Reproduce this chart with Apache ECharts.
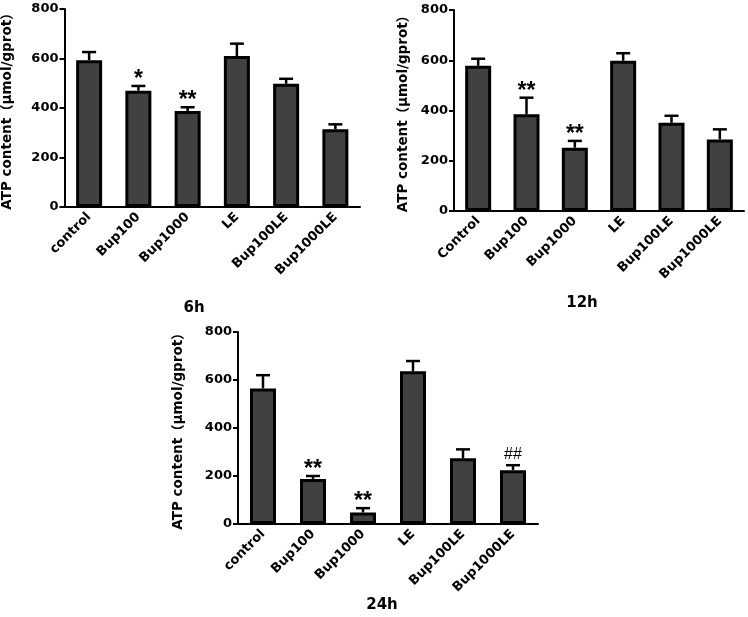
<!DOCTYPE html>
<html>
<head>
<meta charset="utf-8">
<script src="https://cdn.jsdelivr.net/npm/echarts@6/dist/echarts.min.js"></script>
<style>html,body{margin:0;padding:0;background:#fff;}#c{width:748px;height:617px;}</style>
</head>
<body>
<div id="c"></div>
<script>
// ---- data ----
var categories6h = ['control', 'Bup100', 'Bup1000', 'LE', 'Bup100LE', 'Bup1000LE'];
var categories12h = ['Control', 'Bup100', 'Bup1000', 'LE', 'Bup100LE', 'Bup1000LE'];
var categories24h = ['control', 'Bup100', 'Bup1000', 'LE', 'Bup100LE', 'Bup1000LE'];
var mean6h = [593, 470, 388, 610, 498, 314];
var sd6h = [33, 19, 15, 50, 20, 20];
var mean12h = [578, 385, 252, 598, 351, 285];
var sd12h = [28, 66, 27, 30, 28, 40];
var mean24h = [565, 188, 48, 636, 274, 224];
var sd24h = [55, 12, 18, 43, 37, 21];
var marks6h = ['', '*', '**', '', '', ''];
var marks12h = ['', '**', '**', '', '', ''];
var marks24h = ['', '**', '**', '', '', '##'];
var yTicks = [0, 200, 400, 600, 800];
var panelTitles = ['6h', '12h', '24h'];
var yName = 'ATP content（μmol/gprot）';

var FONT = '"DejaVu Sans", "Noto Sans CJK SC", sans-serif';
var STAR_FONT = '"Liberation Sans", Arial, sans-serif';
var panels = [
  {cats: categories6h, mean: mean6h, sd: sd6h, marks: marks6h, grid: {left: 60, top: 9, width: 300, height: 198}, nameGap: 50},
  {cats: categories12h, mean: mean12h, sd: sd12h, marks: marks12h, grid: {left: 454, top: 10, width: 290, height: 201}, nameGap: 44},
  {cats: categories24h, mean: mean24h, sd: sd24h, marks: marks24h, grid: {left: 238, top: 332, width: 300, height: 192}, nameGap: 53}
];

var grids = [], xAxes = [], yAxes = [], series = [];
panels.forEach(function (p, i) {
  grids.push(Object.assign({containLabel: false}, p.grid));
  xAxes.push({
    type: 'category', gridIndex: i, data: p.cats,
    axisLine: {lineStyle: {color: '#000', width: 2}},
    axisTick: {alignWithLabel: true, length: 5, lineStyle: {color: '#000', width: 2}},
    axisLabel: {rotate: 45, color: '#000', fontWeight: 'bold', fontSize: 13, fontFamily: FONT, margin: 8}
  });
  yAxes.push({
    type: 'value', gridIndex: i, min: yTicks[0], max: yTicks[yTicks.length - 1], interval: yTicks[1] - yTicks[0],
    name: yName, nameLocation: 'middle', nameGap: p.nameGap, nameRotate: 90,
    nameTextStyle: {color: '#000', fontWeight: 'bold', fontSize: 13.5, fontFamily: FONT},
    axisLine: {show: true, lineStyle: {color: '#000', width: 2}},
    axisTick: {show: true, length: 5, lineStyle: {color: '#000', width: 2}},
    axisLabel: {color: '#000', fontWeight: 'bold', fontSize: 13, fontFamily: FONT, margin: 6},
    splitLine: {show: false}
  });
  series.push({
    type: 'bar', xAxisIndex: i, yAxisIndex: i, data: p.mean, barWidth: 26,
    itemStyle: {color: '#414141', borderColor: '#000', borderWidth: 3},
    silent: true, animation: false
  });
  series.push({
    type: 'custom', xAxisIndex: i, yAxisIndex: i, z: 5, animation: false, silent: true,
    data: p.mean.map(function (m, k) { return [k, m, m + p.sd[k]]; }),
    renderItem: (function (marks) {
      return function (params, api) {
        var idx = api.value(0);
        var base = api.coord([idx, api.value(1)]);
        var top = api.coord([idx, api.value(2)]);
        var children = [
          {type: 'line', shape: {x1: base[0], y1: base[1], x2: top[0], y2: top[1]}, style: {stroke: '#000', lineWidth: 2.5}},
          {type: 'line', shape: {x1: top[0] - 7, y1: top[1], x2: top[0] + 7, y2: top[1]}, style: {stroke: '#000', lineWidth: 2.5}}
        ];
        var m = marks[idx];
        if (m) {
          var isHash = m.indexOf('#') >= 0;
          children.push({type: 'text', style: {
            text: m, x: top[0], y: top[1] - (isHash ? 3 : -5), align: 'center', verticalAlign: 'bottom',
            font: (isHash ? 'normal 16px ' : 'bold 23px ') + STAR_FONT, fill: '#000'
          }});
        }
        return {type: 'group', children: children};
      };
    })(p.marks)
  });
});

var chart = echarts.init(document.getElementById('c'), null, {renderer: 'canvas'});
chart.setOption({
  backgroundColor: '#fff',
  animation: false,
  title: [
    {text: panelTitles[0], left: 189, top: 296, textAlign: 'center', textStyle: {fontSize: 15, fontWeight: 'bold', color: '#000', fontFamily: FONT}},
    {text: panelTitles[1], left: 577, top: 291, textAlign: 'center', textStyle: {fontSize: 15, fontWeight: 'bold', color: '#000', fontFamily: FONT}},
    {text: panelTitles[2], left: 377, top: 593, textAlign: 'center', textStyle: {fontSize: 15, fontWeight: 'bold', color: '#000', fontFamily: FONT}}
  ],
  grid: grids, xAxis: xAxes, yAxis: yAxes, series: series
});
</script>
</body>
</html>
